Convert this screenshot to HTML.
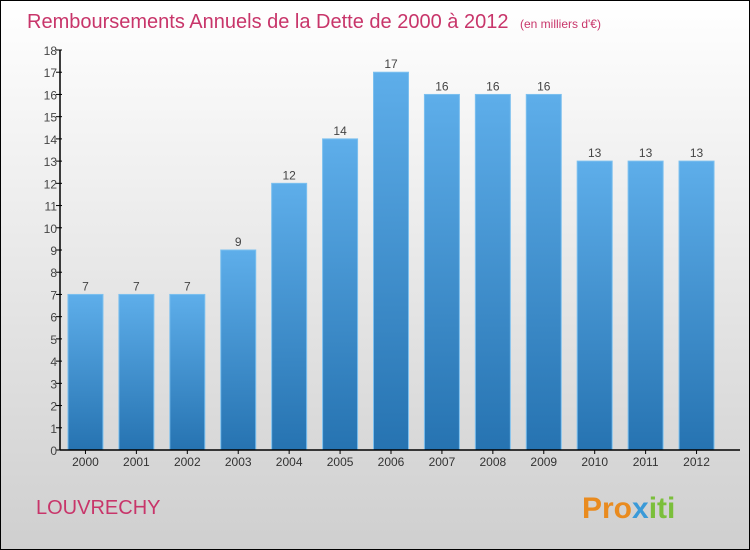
<!DOCTYPE html>
<html><head><meta charset="utf-8"><style>
body{margin:0}
#c{position:relative;width:750px;height:550px;box-sizing:border-box;border:1px solid #000;background:linear-gradient(#fff,#cfcfcf);font-family:"Liberation Sans",sans-serif;overflow:hidden}
</style></head><body>
<div id="c">
<svg id="s" width="750" height="550" style="position:absolute;left:-1px;top:-1px">
<defs><linearGradient id="g" x1="0" y1="0" x2="0" y2="1"><stop offset="0" stop-color="#5eaeea"/><stop offset="1" stop-color="#2673b1"/></linearGradient></defs>
<text x="27" y="28" font-size="20" fill="#c8356a">Remboursements Annuels de la Dette de 2000 à 2012 <tspan font-size="12" dx="6">(en milliers d'€)</tspan></text>
<text x="36" y="514" font-size="20" fill="#c8356a">LOUVRECHY</text>
<text x="582" y="518" font-size="30" font-weight="bold" fill="#e98b1f">Pro<tspan fill="#3a9ad8">x</tspan><tspan fill="#7bbf3b">iti</tspan></text>
<g id="plot"></g>
</svg>
</div>
<script>
const categories=["2000","2001","2002","2003","2004","2005","2006","2007","2008","2009","2010","2011","2012"];
const values=[7,7,7,9,12,14,17,16,16,16,13,13,13];
const yTicks=[0,1,2,3,4,5,6,7,8,9,10,11,12,13,14,15,16,17,18];
const NS="http://www.w3.org/2000/svg",g=document.getElementById('plot');
const y0=450,y1=50,yMax=18,x0=60,x1=722;
const y=v=>y0-(v/yMax)*(y0-y1);
const step=(x1-x0)/categories.length;
const x=i=>x0+step*i+step/2;
function mk(t,a){const e=document.createElementNS(NS,t);for(const k in a)e.setAttribute(k,a[k]);g.appendChild(e);return e;}
yTicks.forEach(t=>{
 const l=mk('line',{x1:x0-4,x2:x0+2,y1:y(t),y2:y(t),stroke:'#000'});
 
 
 const tx=mk('text',{x:x0-3,y:y(t)+5,'font-size':12,fill:'#444','text-anchor':'end'});tx.textContent=t;
 
 
});
values.forEach((v,i)=>{
 const w=35;
 const r=mk('rect',{x:x(i)-w/2,y:y(v),width:w,height:y0-y(v),fill:'url(#g)',stroke:'#7cc0ef','stroke-width':1});
 
 
 const t=mk('text',{x:x(i),y:y(v)-4,'font-size':12,fill:'#444','text-anchor':'middle'});t.textContent=v;
 
 
 const c=mk('text',{x:x(i),y:y0+16,'font-size':12,fill:'#333','text-anchor':'middle'});c.textContent=categories[i];
 
 
 const tk=mk('line',{x1:x(i),x2:x(i),y1:y0,y2:y0+4,stroke:'#000'});
 
 
});
const ya=mk('line',{x1:x0,x2:x0,y1:y1,y2:y0,stroke:'#000','stroke-width':1.5});


const xa=mk('line',{x1:x0,x2:740,y1:y0,y2:y0,stroke:'#000','stroke-width':1.5});


</script>
</body></html>
